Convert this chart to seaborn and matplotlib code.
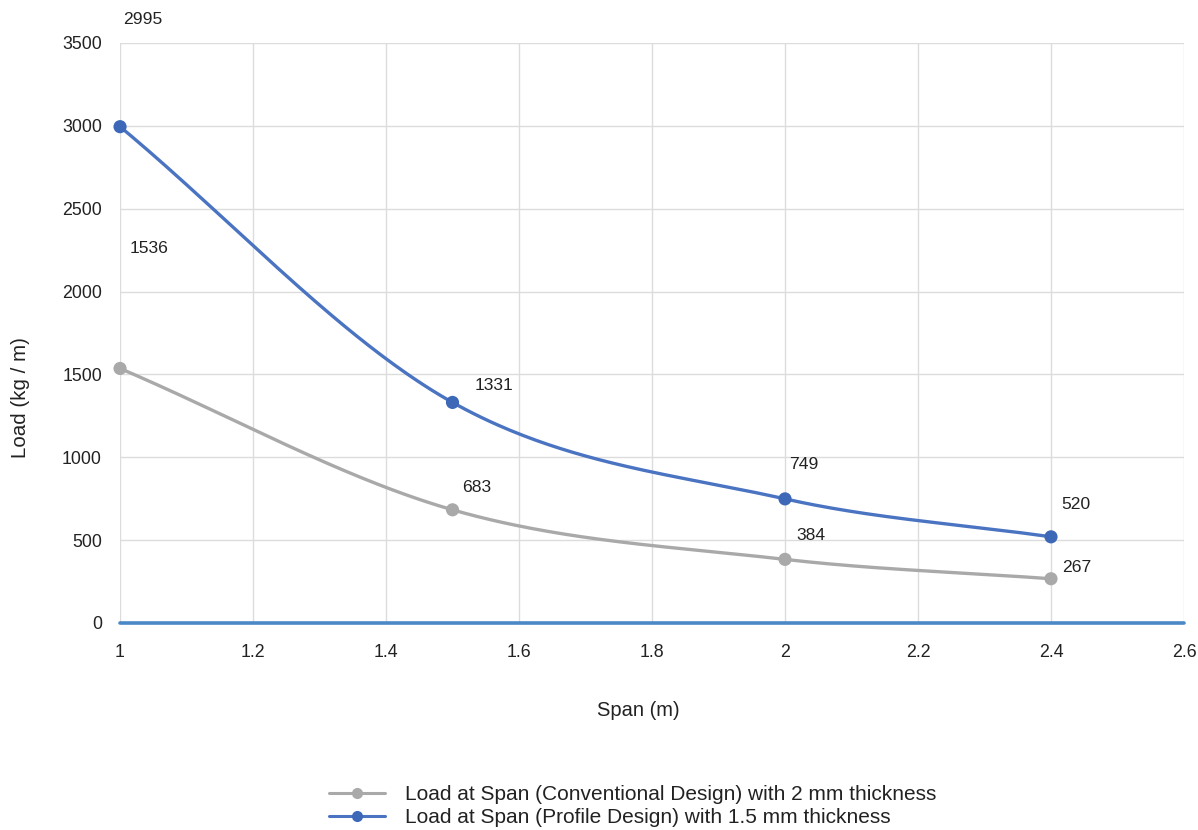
import numpy as np
import pandas as pd
import matplotlib
matplotlib.use("Agg")
import matplotlib.pyplot as plt
from matplotlib.lines import Line2D
import seaborn as sns

# ---- data ----
span = [1.0, 1.5, 2.0, 2.4]
conventional = [1536, 683, 384, 267]
profile = [2995, 1331, 749, 520]
series_names = ["Load at Span (Conventional Design) with 2 mm thickness",
                "Load at Span (Profile Design) with 1.5 mm thickness"]
x_ticks = [1.0, 1.2, 1.4, 1.6, 1.8, 2.0, 2.2, 2.4, 2.6]
x_tick_labels = ["1", "1.2", "1.4", "1.6", "1.8", "2", "2.2", "2.4", "2.6"]
y_ticks = [0, 500, 1000, 1500, 2000, 2500, 3000, 3500]
y_tick_labels = ["0", "500", "1000", "1500", "2000", "2500", "3000", "3500"]
x_label = "Span (m)"
y_label = "Load (kg / m)"

# label offsets in pixels (dx right, dy up) – style, not data
conv_offsets = [(10, 120), (10, 22), (11, 24), (11, 11)]
prof_offsets = [(3, 107), (22, 17), (4, 34), (10, 32)]

GRAY = "#a9a9a9"
BLUE = "#4a74c2"
BLUE_PT = "#3d68b8"
BASE = "#4a88c6"
TXT = "#222222"


def smooth(xs, ys, n=80):
    xs = np.asarray(xs, float)
    ys = np.asarray(ys, float)
    k = len(xs)
    m = np.zeros(k)
    for i in range(k):
        if i == 0:
            m[i] = (ys[1] - ys[0]) / (xs[1] - xs[0])
        elif i == k - 1:
            m[i] = (ys[-1] - ys[-2]) / (xs[-1] - xs[-2])
        else:
            m[i] = (ys[i + 1] - ys[i - 1]) / (xs[i + 1] - xs[i - 1])
    ox, oy = [], []
    for i in range(k - 1):
        h = xs[i + 1] - xs[i]
        t = np.linspace(0, 1, n, endpoint=(i == k - 2))
        h00 = 2 * t**3 - 3 * t**2 + 1
        h10 = t**3 - 2 * t**2 + t
        h01 = -2 * t**3 + 3 * t**2
        h11 = t**3 - t**2
        ox.extend(xs[i] + t * h)
        oy.extend(h00 * ys[i] + h10 * h * m[i] + h01 * ys[i + 1] + h11 * h * m[i + 1])
    return np.array(ox), np.array(oy)


sns.set_theme(style="white")
plt.rcParams['font.family'] = ['Liberation Sans', 'DejaVu Sans']

fig = plt.figure(figsize=(11.98, 8.30), dpi=100)
ax = fig.add_axes([0.1002, 0.2494, 0.8881, 0.6988])

ax.set_xlim(1.0, 2.6)
ax.set_ylim(0, 3500)
ax.set_xticks(x_ticks)
ax.set_xticklabels(x_tick_labels)
ax.set_yticks(y_ticks)
ax.set_yticklabels(y_tick_labels)
ax.grid(True, color="#dcdcdc", lw=1.0)
ax.set_axisbelow(True)
for s in ax.spines.values():
    s.set_visible(False)
ax.tick_params(axis="y", length=0, labelsize=12.8, labelcolor=TXT, pad=13)
ax.tick_params(axis="x", length=0, labelsize=12.8, labelcolor=TXT, pad=15)

for vals, col, ptcol in [(conventional, GRAY, GRAY), (profile, BLUE, BLUE_PT)]:
    sx, sy = smooth(span, vals)
    df_s = pd.DataFrame({"x": sx, "y": sy})
    sns.lineplot(data=df_s, x="x", y="y", ax=ax, color=col, lw=2.4,
                 sort=False, estimator=None, zorder=3)
    df_p = pd.DataFrame({"x": span, "y": vals})
    sns.scatterplot(data=df_p, x="x", y="y", ax=ax, color=ptcol, s=90,
                    edgecolor="none", zorder=4, clip_on=False)

ax.axhline(0, color=BASE, lw=2.6, zorder=5, clip_on=False)
ax.set_xlabel("")
ax.set_ylabel("")

for vals, offs in [(conventional, conv_offsets), (profile, prof_offsets)]:
    for xv, yv, (dx, dy) in zip(span, vals, offs):
        ax.annotate(str(yv), (xv, yv), xytext=(dx * 0.72, dy * 0.72),
                    textcoords="offset points", ha="left", va="center",
                    fontsize=12.6, color=TXT, annotation_clip=False)

fig.text(638 / 1198, 1 - 710 / 830, x_label, ha="center", va="center",
         fontsize=14.5, color=TXT)
fig.text(21 / 1198, 1 - 398 / 830, y_label, ha="center", va="center",
         rotation=90, fontsize=14.8, color=TXT)

handles = [Line2D([0], [0], color=GRAY, lw=2.2, marker="o", markersize=8, markeredgewidth=0),
           Line2D([0], [0], color=BLUE, lw=2.2, marker="o", markersize=8,
                  markerfacecolor=BLUE_PT, markeredgewidth=0)]
fig.legend(handles, series_names, loc="center", bbox_to_anchor=(633 / 1198, 1 - 806 / 830),
           frameon=False, fontsize=15, handlelength=2.65, handletextpad=1.0,
           labelspacing=0.2, labelcolor=TXT, borderpad=0)

fig.savefig("out.png", dpi=100)
